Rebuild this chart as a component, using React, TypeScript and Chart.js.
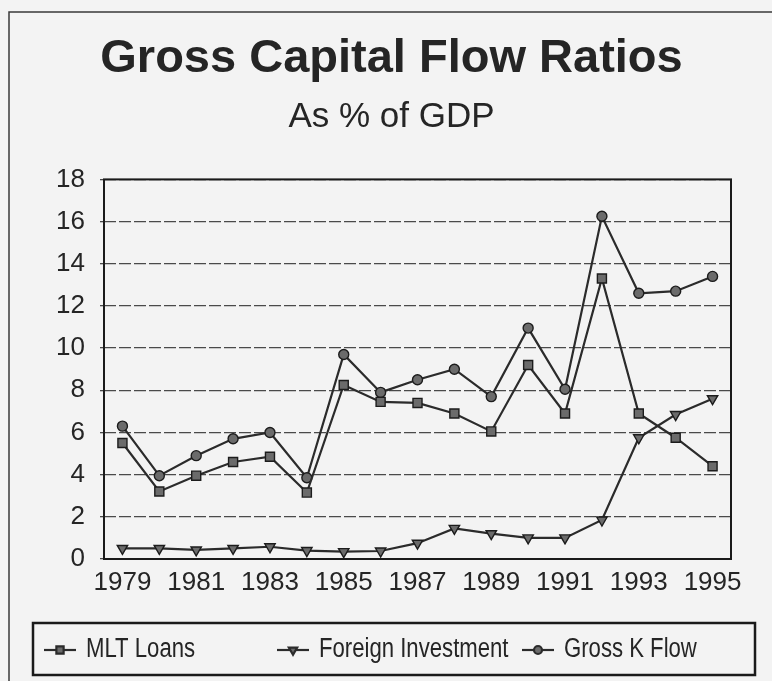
import React, { useEffect, useRef } from 'react';
import { Chart, registerables } from 'chart.js';
import { drawPoint } from 'chart.js/helpers';

Chart.register(...registerables);

const years = ['1979', '1980', '1981', '1982', '1983', '1984', '1985', '1986', '1987', '1988', '1989', '1990', '1991', '1992', '1993', '1994', '1995'];
const mltLoans = [5.5, 3.2, 3.95, 4.6, 4.85, 3.15, 8.25, 7.45, 7.4, 6.9, 6.05, 9.2, 6.9, 13.3, 6.9, 5.75, 4.4];
const foreignInvestment = [0.5, 0.5, 0.43, 0.5, 0.58, 0.4, 0.35, 0.38, 0.75, 1.45, 1.2, 1.0, 1.0, 1.85, 5.75, 6.85, 7.6];
const grossKFlow = [6.3, 3.95, 4.9, 5.7, 6.0, 3.85, 9.7, 7.9, 8.5, 9.0, 7.7, 10.95, 8.05, 16.25, 12.6, 12.7, 13.4];
const seriesNames = ['MLT Loans', 'Foreign Investment', 'Gross K Flow'];
const titleText = 'Gross Capital Flow Ratios';
const subtitleText = 'As % of GDP';

const FONT = "'Liberation Sans', Arial, sans-serif";
const INK = '#252525';
const LINE = '#2b2b2b';
const MARK = '#6b6b6b';

const framePlugin = {
  id: 'frame',
  beforeDraw(chart: any) {
    const { ctx, width, height } = chart;
    ctx.save();
    ctx.fillStyle = '#f3f3f3';
    ctx.fillRect(0, 0, width, height);
    ctx.strokeStyle = '#3a3a3a';
    ctx.lineWidth = 1.5;
    ctx.beginPath();
    ctx.moveTo(9, height);
    ctx.lineTo(9, 12);
    ctx.lineTo(width, 12);
    ctx.stroke();
    ctx.restore();
  },
  beforeDatasetsDraw(chart: any) {
    const { ctx, chartArea } = chart;
    ctx.save();
    ctx.strokeStyle = '#1a1a1a';
    ctx.lineWidth = 2;
    ctx.strokeRect(chartArea.left, chartArea.top, chartArea.right - chartArea.left, chartArea.bottom - chartArea.top);
    ctx.restore();
  },
};

const LEGEND_BOX = { left: 33, top: 623, right: 755, bottom: 675 };
const LEGEND_X = [44, 277, 522];

const boxLegendPlugin = {
  id: 'boxLegend',
  afterDraw(chart: any) {
    const { ctx } = chart;
    ctx.save();
    ctx.strokeStyle = '#1a1a1a';
    ctx.lineWidth = 2.5;
    ctx.strokeRect(LEGEND_BOX.left, LEGEND_BOX.top, LEGEND_BOX.right - LEGEND_BOX.left, LEGEND_BOX.bottom - LEGEND_BOX.top);
    const y = (LEGEND_BOX.top + LEGEND_BOX.bottom) / 2 + 1;
    chart.data.datasets.forEach((ds: any, i: number) => {
      const x0 = LEGEND_X[i];
      ctx.strokeStyle = LINE;
      ctx.lineWidth = 2.2;
      ctx.beginPath();
      ctx.moveTo(x0, y);
      ctx.lineTo(x0 + 32, y);
      ctx.stroke();
      ctx.fillStyle = MARK;
      ctx.strokeStyle = LINE;
      drawPoint(ctx, { pointStyle: ds.pointStyle, radius: ds.pointRadius * 0.8, rotation: ds.pointRotation || 0, borderWidth: 1.2 }, x0 + 16, y);
      // condensed lettering (narrow face emulated by horizontal scaling)
      ctx.save();
      ctx.translate(x0 + 42, y);
      ctx.scale(0.82, 1);
      ctx.fillStyle = INK;
      ctx.font = `27px ${FONT}`;
      ctx.textBaseline = 'middle';
      ctx.textAlign = 'left';
      ctx.fillText(ds.label, 0, 0);
      ctx.restore();
    });
    ctx.restore();
  },
};

export default function App() {
  const canvasRef = useRef<HTMLCanvasElement>(null);

  useEffect(() => {
    document.body.style.margin = '0';
    const canvas = canvasRef.current;
    if (!canvas) return;
    const common = {
      borderColor: LINE,
      borderWidth: 2.2,
      pointBackgroundColor: MARK,
      pointBorderColor: '#1c1c1c',
      pointBorderWidth: 1.4,
      tension: 0,
      fill: false,
    };
    const chart = new Chart(canvas, {
      type: 'line',
      data: {
        labels: years,
        datasets: [
          { ...common, label: seriesNames[0], data: mltLoans, pointStyle: 'rect', pointRadius: 6.4 },
          { ...common, label: seriesNames[1], data: foreignInvestment, pointStyle: 'triangle', pointRotation: 180, pointRadius: 6 },
          { ...common, label: seriesNames[2], data: grossKFlow, pointStyle: 'circle', pointRadius: 5 },
        ],
      },
      options: {
        animation: false,
        responsive: true,
        maintainAspectRatio: false,
        layout: { padding: { left: 26, right: 15, top: 0, bottom: 82 } },
        font: { family: FONT },
        plugins: {
          legend: { display: false },
          tooltip: { enabled: false },
          title: {
            display: true,
            text: titleText,
            color: INK,
            font: { family: FONT, size: 47, weight: 'bold' },
            padding: { top: 31, bottom: 0 },
          },
          subtitle: {
            display: true,
            text: subtitleText,
            color: INK,
            font: { family: FONT, size: 35, weight: 'normal' },
            padding: { top: 9, bottom: 41 },
          },
        },
        scales: {
          x: {
            type: 'category',
            offset: true,
            grid: { display: false, drawTicks: false },
            border: { display: false },
            ticks: {
              color: INK,
              font: { family: FONT, size: 26 },
              padding: 8,
              autoSkip: false,
              maxRotation: 0,
              minRotation: 0,
              callback: (_v: any, i: number) => (i % 2 === 0 ? years[i] : ''),
            },
            afterFit: (s: any) => { s.height = 40; },
          },
          y: {
            min: 0,
            max: 18,
            grid: { color: '#4a4a4a', lineWidth: 1.3, drawTicks: true, tickLength: 4, tickColor: '#4a4a4a' },
            border: { display: false, dash: [12, 3] },
            ticks: {
              stepSize: 2,
              color: INK,
              font: { family: FONT, size: 26 },
              padding: 15,
            },
            afterFit: (s: any) => { s.width = 78; },
          },
          yRight: {
            position: 'right',
            min: 0,
            max: 18,
            grid: { display: false, drawTicks: false },
            border: { display: false },
            ticks: { display: false },
            afterFit: (s: any) => { s.width = 26; },
          },
        },
      },
      plugins: [framePlugin, boxLegendPlugin],
    } as any);
    return () => chart.destroy();
  }, []);

  return (
    <div style={{ position: 'relative', width: '772px', height: '681px' }}>
      <canvas ref={canvasRef} />
    </div>
  );
}
